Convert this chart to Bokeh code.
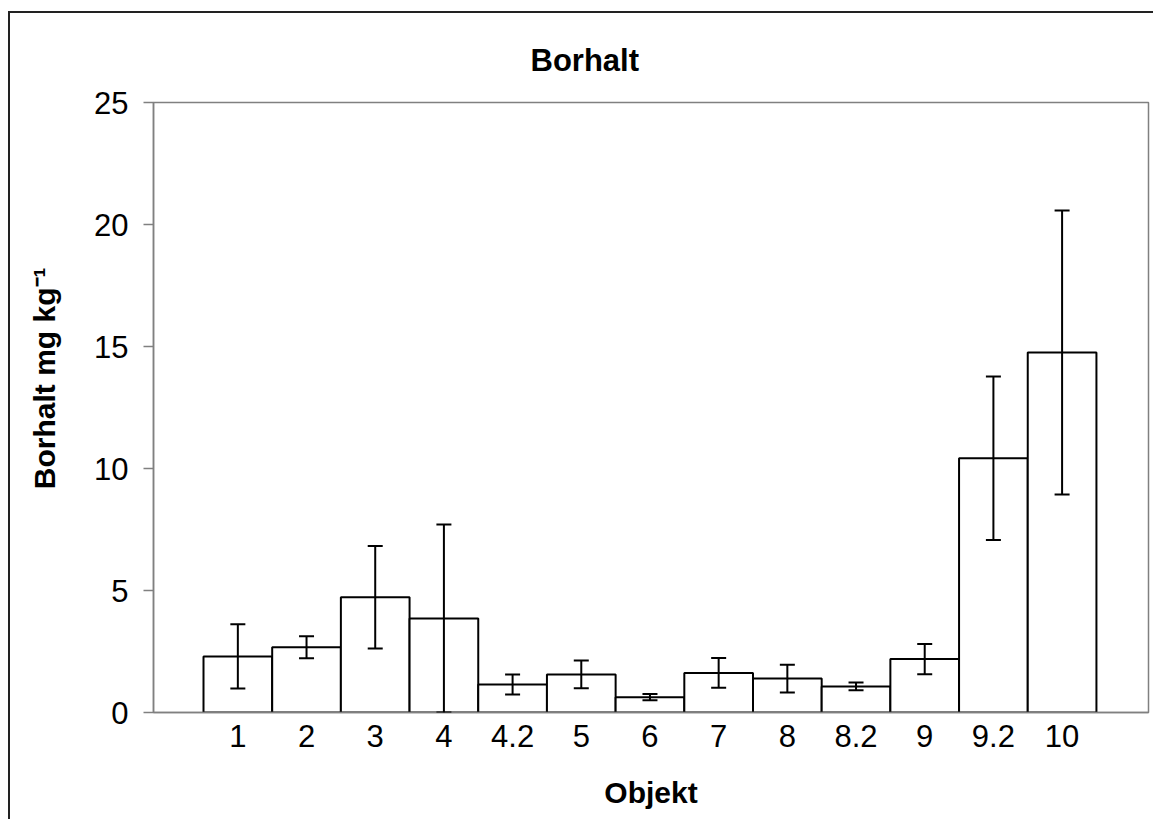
from bokeh.plotting import figure
from bokeh.models import ColumnDataSource, Whisker, TeeHead, FixedTicker, Range1d
from bokeh.embed import file_html
from bokeh.resources import INLINE

# ---- data ----
objekt = ["1", "2", "3", "4", "4.2", "5", "6", "7", "8", "8.2", "9", "9.2", "10"]
borhalt = [2.30, 2.67, 4.72, 3.85, 1.15, 1.56, 0.63, 1.62, 1.39, 1.07, 2.19, 10.42, 14.75]
fel = [1.32, 0.45, 2.10, 3.85, 0.41, 0.57, 0.13, 0.61, 0.57, 0.16, 0.62, 3.35, 5.82]

pos = list(range(1, len(objekt) + 1))
lower = [m - e for m, e in zip(borhalt, fel)]
upper = [m + e for m, e in zip(borhalt, fel)]

src = ColumnDataSource(dict(x=pos, y=borhalt, lo=lower, hi=upper))

FONT = "Liberation Sans"
GREY = "#808080"
NB = "\u00a0"

p = figure(width=1145, height=808, output_backend="svg", toolbar_location=None,
           x_range=Range1d(-0.228, 14.258), y_range=Range1d(0, 25),
           min_border_left=143, min_border_right=7, min_border_top=89, min_border_bottom=109)
p.styles = {"margin-left": "8px", "margin-top": "11px",
            "border-left": "2px solid #222", "border-top": "2px solid #222"}

p.background_fill_color = "white"
p.border_fill_color = "white"
p.outline_line_color = GREY
p.outline_line_width = 1.5
p.xgrid.visible = False
p.ygrid.visible = False

# title
p.title.text = "Borhalt"
p.title.text_font = FONT
p.title.text_font_size = "31px"
p.title.text_font_style = "bold"
p.title.text_color = "black"
p.title.align = "left"
p.title.offset = 377
p.title.standoff = 49

p.vbar(x="x", top="y", bottom=0, width=1.0, source=src,
       fill_color="white", line_color="black", line_width=2)

w = Whisker(base="x", lower="lo", upper="hi", source=src, level="overlay",
            line_color="black", line_width=2,
            upper_head=TeeHead(size=15, line_color="black", line_width=2),
            lower_head=TeeHead(size=15, line_color="black", line_width=2))
p.add_layout(w)

# x axis
p.xaxis.ticker = FixedTicker(ticks=pos)
p.xaxis.major_label_overrides = {i: s for i, s in zip(pos, objekt)}
p.xaxis.major_tick_out = 0
p.xaxis.major_tick_in = 0
p.xaxis.minor_tick_line_color = None
p.xaxis.axis_line_color = GREY
p.xaxis.axis_line_width = 1.5
p.xaxis.major_label_text_font = FONT
p.xaxis.major_label_text_font_size = "31px"
p.xaxis.major_label_text_color = "black"
p.xaxis.major_label_standoff = 12
p.xaxis.axis_label = "Objekt"
p.xaxis.axis_label_text_font = FONT
p.xaxis.axis_label_text_font_size = "30px"
p.xaxis.axis_label_text_font_style = "bold"
p.xaxis.axis_label_text_color = "black"
p.xaxis.axis_label_standoff = 26

# y axis
p.yaxis.ticker = FixedTicker(ticks=[0, 5, 10, 15, 20, 25])
p.yaxis.major_tick_out = 10
p.yaxis.major_tick_in = 0
p.yaxis.minor_tick_line_color = None
p.yaxis.axis_line_color = GREY
p.yaxis.axis_line_width = 1.5
p.yaxis.major_tick_line_color = GREY
p.yaxis.major_tick_line_width = 1.5
p.yaxis.major_label_text_font = FONT
p.yaxis.major_label_text_font_size = "31px"
p.yaxis.major_label_text_color = "black"
p.yaxis.major_label_standoff = 15
p.yaxis.axis_label = NB * 7 + "Borhalt mg kg\u207b\u00b9"
p.yaxis.axis_label_text_font = FONT
p.yaxis.axis_label_text_font_size = "30px"
p.yaxis.axis_label_text_font_style = "bold"
p.yaxis.axis_label_text_color = "black"
p.yaxis.axis_label_standoff = 30

open("out.html", "w").write(file_html(p, INLINE))
